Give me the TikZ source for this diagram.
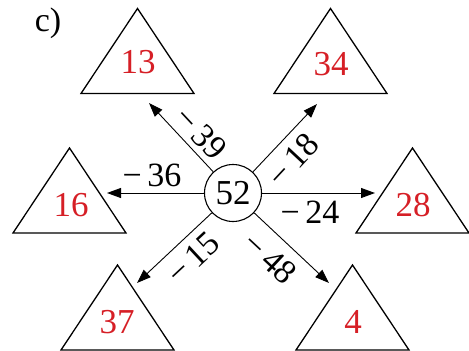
\documentclass[tikz,border=0pt]{standalone}
\usepackage{fontspec}
\setmainfont{Liberation Serif}
\usetikzlibrary{arrows.meta}
\definecolor{numred}{RGB}{214,31,38}
\tikzset{
  tri/.style={draw=black, line width=1.3pt, line join=miter},
  num/.style={text=numred, font=\fontsize{35}{40}\selectfont, inner sep=0pt},
  lab/.style={font=\fontsize{34}{40}\selectfont, inner sep=0pt},
  arr/.style={draw=black, line width=0.9pt, -{Triangle[length=14pt,width=10pt]}},
}
\newcommand{\trio}[3]{% name, apex x, apex y
  \draw[tri] (#2-56.5,#3+85) -- (#2,#3) -- (#2+56.5,#3+85) -- cycle;
}
\begin{document}
\begin{tikzpicture}[x=1pt,y=-1pt]
\useasboundingbox (0,0) rectangle (469,351);
% label
\node[font=\fontsize{34}{38}\selectfont, inner sep=0pt] (lc) at (48,23) {c)};
% triangles
\trio{t13}{137.5}{8.5}
\trio{t34}{330.5}{8.5}
\trio{t16}{69.5}{148}
\trio{t28}{412.5}{148}
\trio{t37}{117.5}{265}
\trio{t4}{352.5}{265}
% numbers
\node[num] (n13) at (138,62) {13};
\node[num] (n34) at (331,64) {34};
\node[num] (n16) at (71,205) {16};
\node[num] (n28) at (413,205) {28};
\node[num] (n37) at (117,322) {37};
\node[num] (n4) at (353,322) {4};
% centre
\node[circle, draw, line width=1.1pt, minimum size=57pt, inner sep=0pt,
      font=\fontsize{35}{40}\selectfont] (c) at (233,193) {52};
% arrow tips
\coordinate (a13) at (149,103);
\coordinate (a34) at (317,104);
\coordinate (a16) at (107,193);
\coordinate (a28) at (375,193);
\coordinate (a37) at (137,283);
\coordinate (a4) at (329,283);
\draw[arr] (c) -- (a13);
\draw[arr] (c) -- (a34);
\draw[arr] (c) -- (a16);
\draw[arr] (c) -- (a28);
\draw[arr] (c) -- (a37);
\draw[arr] (c) -- (a4);
% arrow labels
\node[lab, rotate=-47] (l39) at (201,133) {−\,39};
\node[lab, rotate=47] (l18) at (293,160) {−\,18};
\node[lab] (l36) at (152,175) {−\,36};
\node[lab] (l24) at (310,212) {−\,24};
\node[lab, rotate=43] (l15) at (193,258) {−\,15};
\node[lab, rotate=-43] (l48) at (270,258) {−\,48};
\end{tikzpicture}
\end{document}
